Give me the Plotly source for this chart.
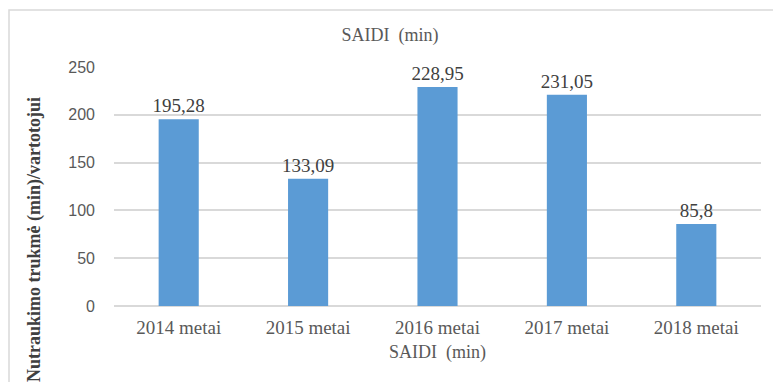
import plotly.graph_objects as go

categories = ["2014 metai", "2015 metai", "2016 metai", "2017 metai", "2018 metai"]
bar_values = [195.28, 133.09, 228.95, 221.0, 85.8]
bar_labels = ["195,28", "133,09", "228,95", "231,05", "85,8"]
y_ticks = [0, 50, 100, 150, 200, 250]

W, H = 773, 382
ml, mr, mt, mb = 114, 12, 67, 76
pw, ph = W - ml - mr, H - mt - mb

def px_x(x):
    return (x - ml) / pw

def px_y(y):
    return (H - mb - y) / ph

fig = go.Figure()
fig.add_trace(go.Bar(
    x=categories, y=bar_values, text=bar_labels, textposition="outside",
    constraintext="none",
    marker=dict(color="#5b9bd5", line=dict(width=0)), width=0.31,
    textfont=dict(family="Liberation Serif", size=19, color="#404040"),
    cliponaxis=False,
))

fig.update_layout(
    width=W, height=H, margin=dict(l=ml, r=mr, t=mt, b=mb),
    paper_bgcolor="white", plot_bgcolor="white", showlegend=False,
    title=dict(text="SAIDI&nbsp;&nbsp;(min)", xref="container", x=390 / W, xanchor="center",
               yref="container", y=1 - 35 / H, yanchor="middle",
               font=dict(family="Liberation Serif", size=18, color="#595959")),
    xaxis=dict(showgrid=False, showline=False, ticks="", ticklabelstandoff=8,
               tickfont=dict(family="Liberation Serif", size=19, color="#595959"),
               title=dict(text="SAIDI&nbsp;&nbsp;(min)", standoff=8,
                          font=dict(family="Liberation Serif", size=18, color="#595959"))),
    yaxis=dict(range=[0, 250], tickvals=y_ticks, showgrid=True, gridcolor="#d9d9d9",
               gridwidth=1.5, zeroline=True, zerolinecolor="#d9d9d9", zerolinewidth=1.5,
               showline=False, ticks="", ticklabelstandoff=18,
               tickfont=dict(family="Liberation Sans", size=16, color="#595959")),
    shapes=[dict(type="rect", xref="paper", yref="paper",
                 x0=px_x(9), x1=px_x(790), y0=px_y(400), y1=px_y(10),
                 line=dict(color="#d9d9d9", width=1.5), fillcolor="rgba(0,0,0,0)",
                 layer="below")],
    annotations=[dict(text="<b>Nutraukimo trukmė (min)/vartotojui</b>", textangle=-90,
                      xref="paper", yref="paper", x=px_x(34), y=px_y(240),
                      xanchor="center", yanchor="middle", showarrow=False,
                      font=dict(family="Liberation Serif", size=18, color="#404040"))],
)

fig.write_html("out.html")
